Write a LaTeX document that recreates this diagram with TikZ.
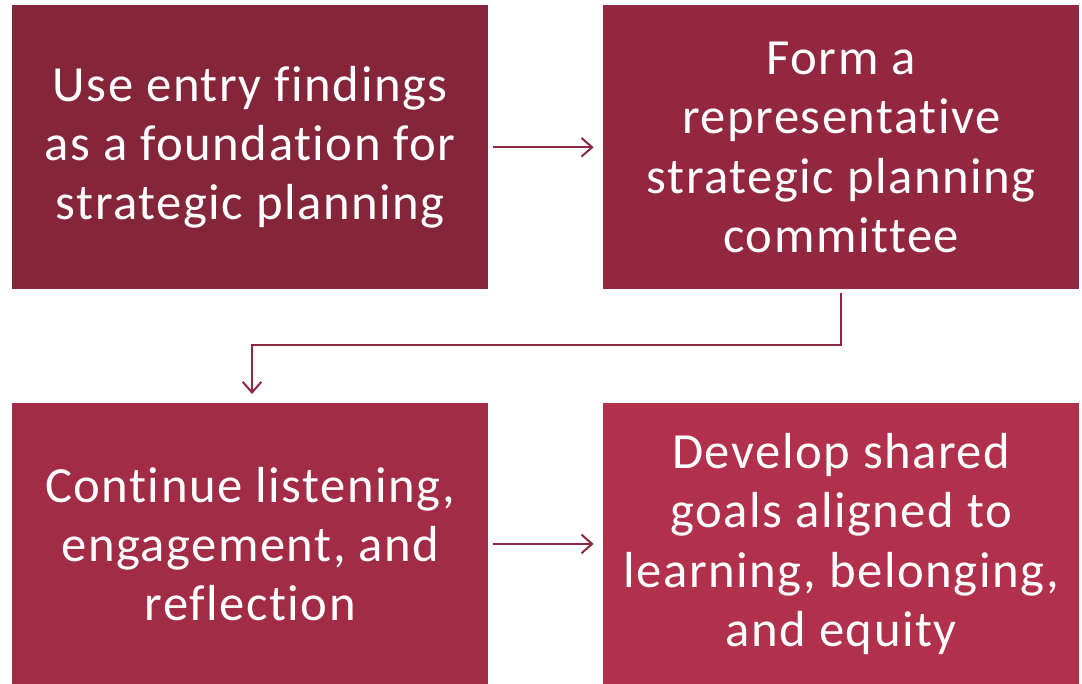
\documentclass[tikz,border=0pt]{standalone}
\usepackage{fontspec}
\setmainfont{Carlito}[Ligatures=NoCommon,LetterSpace=3]
\usetikzlibrary{arrows.meta}
\definecolor{cA}{HTML}{85253A}
\definecolor{cB}{HTML}{93273F}
\definecolor{cC}{HTML}{A22B45}
\definecolor{cD}{HTML}{B1304B}
\definecolor{arr}{HTML}{8C2840}
\begin{document}
\begin{tikzpicture}[x=0.75pt,y=-0.75pt,
  box/.style={fill=#1,draw=none,text=white,align=center,font=\fontsize{38}{44.5}\selectfont,minimum width=357pt,inner sep=0pt,anchor=north west},
  conn/.style={draw=arr,line width=1.5pt,-{Straight Barb[length=8pt,width=14pt,line width=1.5pt]}}]
\useasboundingbox (0,0) rectangle (1082,684);
\node[box=cA,minimum height=213pt] (a) at (12,5) {Use entry findings\\as a foundation for\\strategic planning};
\node[box=cB,minimum height=213pt] (b) at (603,5) {Form a\\representative\\strategic planning\\committee};
\node[box=cC,minimum height=211pt] (c) at (12,403) {Continue listening,\\engagement, and\\reflection};
\node[box=cD,minimum height=211pt] (d) at (603,403) {Develop shared\\goals aligned to\\learning, belonging,\\and equity};
\coordinate (b1) at (841,293);
\coordinate (b2) at (841,345);
\coordinate (b3) at (252,345);
\coordinate (c1) at (252,394);
\draw[conn] ([xshift=3pt]a.east) -- ([xshift=-7pt]b.west);
\draw[conn] (b1) -- (b2) -- (b3) -- (c1);
\draw[conn] ([xshift=3pt]c.east) -- ([xshift=-7pt]d.west);
\end{tikzpicture}
\end{document}
